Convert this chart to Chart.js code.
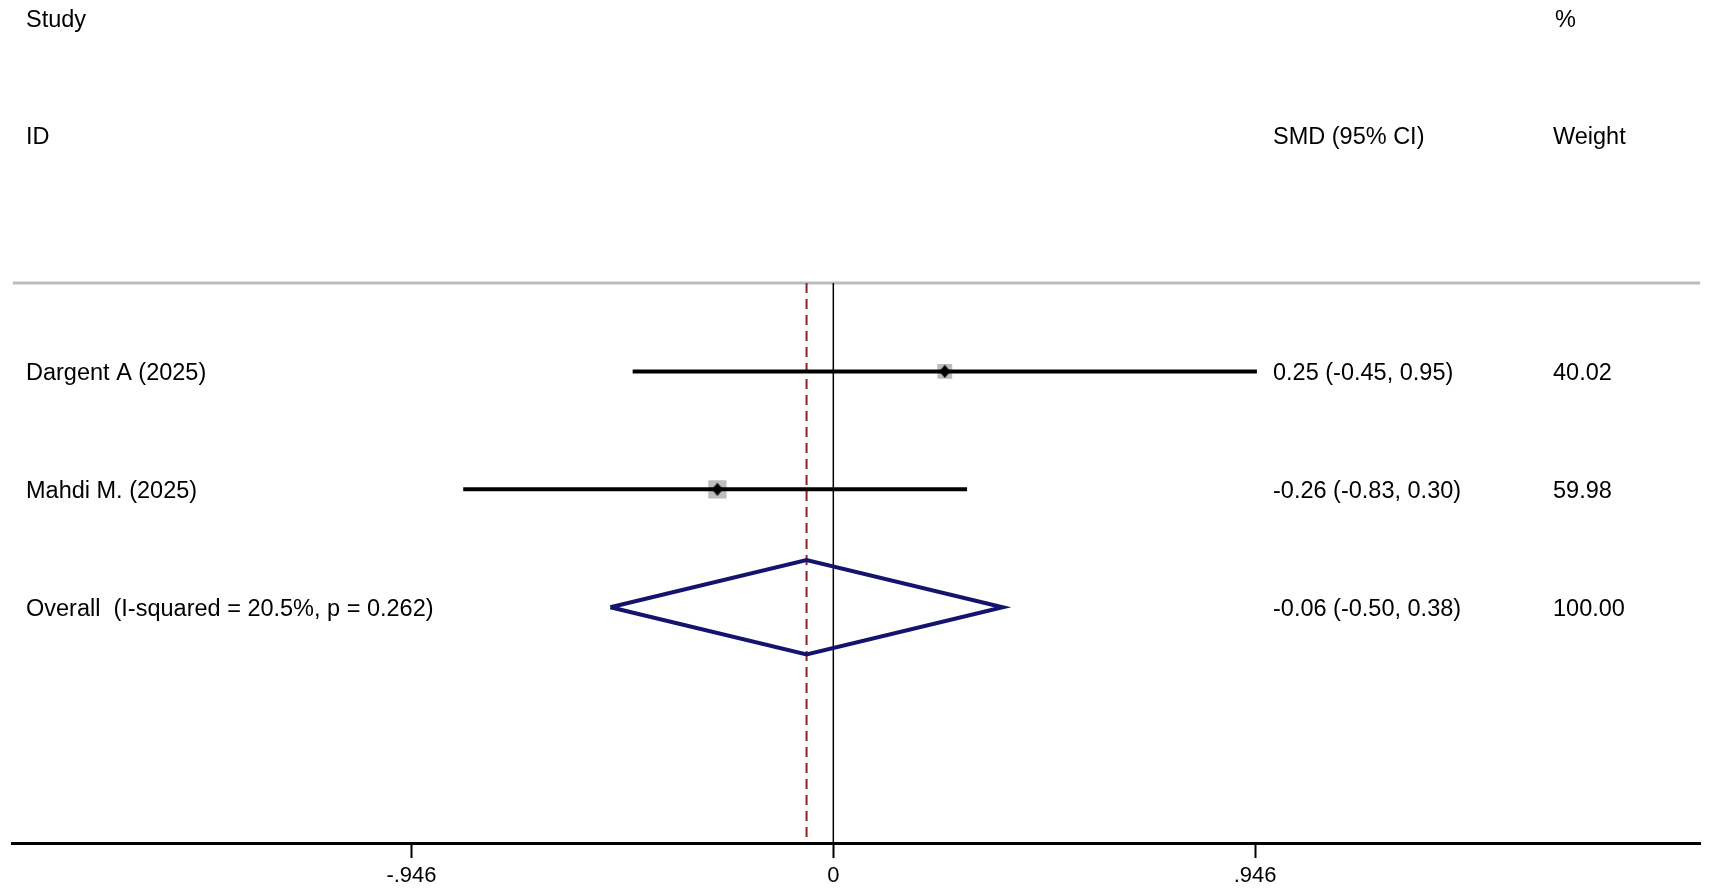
<!DOCTYPE html>
<html>
<head>
<meta charset="utf-8">
<script src="https://cdn.jsdelivr.net/npm/chart.js@4"></script>
<style>
  html, body { margin: 0; padding: 0; background: #fff; }
  canvas { display: block; }
</style>
</head>
<body>
<canvas id="forest" width="1713" height="895"></canvas>
<script>
// Forest plot data
const studies = ["Dargent A (2025)", "Mahdi M. (2025)"];
const smd = [0.25, -0.26];
const lower = [-0.45, -0.83];
const upper = [0.95, 0.30];
const weights = [40.02, 59.98];

const overallLabel = "Overall  (I-squared = 20.5%, p = 0.262)";
const overallSmd = -0.06;
const overallLower = -0.50;
const overallUpper = 0.38;
const overallWeight = 100.00;

const tickValues = [-0.946, 0, 0.946];
const tickLabels = ["-.946", "0", ".946"];

const FONT = "'Liberation Sans', Arial, sans-serif";
const rows = studies.map((s, i) => i + 1);
const overallRow = studies.length + 1;
const yMin = 0.25, yMax = 5;
const TXT_DY = 2.5;

const fmt = (v) => v.toFixed(2);

// little black diamond used as the point marker
const marker = document.createElement("canvas");
marker.width = 12;
marker.height = 14;
(() => {
    const c = marker.getContext("2d");
    c.fillStyle = "#000";
    c.beginPath();
    c.moveTo(6, 0.5);
    c.lineTo(11.5, 7);
    c.lineTo(6, 13.5);
    c.lineTo(0.5, 7);
    c.closePath();
    c.fill();
})();

// CI lines, one dataset per study
const ciSets = studies.map((s, i) => ({
    data: [{ x: lower[i], y: rows[i] }, { x: upper[i], y: rows[i] }],
    showLine: true,
    borderColor: "#000",
    borderWidth: 4,
    pointRadius: 0,
    order: 1
}));

const datasets = [
    {
        // point estimates
        data: smd.map((v, i) => ({ x: v, y: rows[i] })),
        pointStyle: marker,
        pointRadius: 6,
        order: 0
    },
    ...ciSets,
    {
        // weight boxes
        data: smd.map((v, i) => ({ x: v, y: rows[i] })),
        pointStyle: "rect",
        pointRadius: weights.map(w => 2.35 * Math.sqrt(w) / Math.SQRT2),
        backgroundColor: "#bdbdbd",
        borderWidth: 0,
        order: 2
    },
    {
        // pooled diamond
        data: [
            { x: overallLower, y: overallRow },
            { x: overallSmd, y: overallRow - 0.4 },
            { x: overallUpper, y: overallRow },
            { x: overallSmd, y: overallRow + 0.4 },
            { x: overallLower, y: overallRow }
        ],
        showLine: true,
        borderColor: "#14146e",
        borderWidth: 4,
        borderJoinStyle: "miter",
        pointRadius: 0,
        order: 1
    },
    {
        // no-effect line
        data: [{ x: 0, y: yMin }, { x: 0, y: yMax }],
        showLine: true,
        borderColor: "#000",
        borderWidth: 1.5,
        pointRadius: 0,
        order: 3
    },
    {
        // overall estimate line
        data: [{ x: overallSmd, y: yMin }, { x: overallSmd, y: yMax }],
        showLine: true,
        borderColor: "#8b2323",
        borderWidth: 2,
        borderDash: [10, 6],
        pointRadius: 0,
        order: 3
    }
];

const textPlugin = {
    id: "forestText",
    beforeDatasetsDraw(chart) {
        const { ctx, chartArea } = chart;
        ctx.save();
        ctx.strokeStyle = "#bdbdbd";
        ctx.lineWidth = 3;
        ctx.beginPath();
        ctx.moveTo(chartArea.left, chartArea.top);
        ctx.lineTo(chartArea.right, chartArea.top);
        ctx.stroke();
        ctx.restore();
    },
    afterDraw(chart) {
        const { ctx } = chart;
        const y = chart.scales.y;
        ctx.save();
        ctx.fillStyle = "#000";
        ctx.font = "23.5px " + FONT;
        ctx.textBaseline = "middle";
        ctx.textAlign = "left";

        // headers
        ctx.fillText("Study", 26, 18 + TXT_DY);
        ctx.fillText("%", 1555, 18 + TXT_DY);
        ctx.fillText("ID", 26, 135 + TXT_DY);
        ctx.fillText("SMD (95% CI)", 1273, 135 + TXT_DY);
        ctx.fillText("Weight", 1553, 135 + TXT_DY);

        studies.forEach((s, i) => {
            const py = y.getPixelForValue(rows[i]) + TXT_DY;
            ctx.fillText(s, 26, py);
            ctx.fillText(fmt(smd[i]) + " (" + fmt(lower[i]) + ", " + fmt(upper[i]) + ")", 1273, py);
            ctx.fillText(fmt(weights[i]), 1553, py);
        });

        const po = y.getPixelForValue(overallRow) + TXT_DY;
        ctx.fillText(overallLabel, 26, po);
        ctx.fillText(fmt(overallSmd) + " (" + fmt(overallLower) + ", " + fmt(overallUpper) + ")", 1273, po);
        ctx.fillText(fmt(overallWeight), 1553, po);
        ctx.restore();
    }
};

new Chart(document.getElementById("forest"), {
    type: "scatter",
    data: { datasets: datasets },
    options: {
        responsive: false,
        animation: false,
        layout: { padding: { top: 283, left: 9, right: 10, bottom: 0 } },
        plugins: {
            legend: { display: false },
            tooltip: { enabled: false }
        },
        scales: {
            x: {
                type: "linear",
                min: -1.84,
                max: 1.944,
                afterBuildTicks: (scale) => {
                    scale.ticks = tickValues.map(v => ({ value: v }));
                },
                afterFit: (scale) => { scale.height = 52; },
                ticks: {
                    callback: (v, i) => tickLabels[i],
                    color: "#000",
                    padding: 5,
                    maxRotation: 0,
                    autoSkip: false,
                    font: { family: FONT, size: 22 }
                },
                grid: {
                    display: true,
                    drawOnChartArea: false,
                    drawTicks: true,
                    tickLength: 15,
                    tickColor: "#000",
                    tickWidth: 2
                },
                border: { display: true, color: "#000", width: 3 }
            },
            y: {
                type: "linear",
                display: false,
                reverse: true,
                min: yMin,
                max: yMax
            }
        }
    },
    plugins: [textPlugin]
});
</script>
</body>
</html>
